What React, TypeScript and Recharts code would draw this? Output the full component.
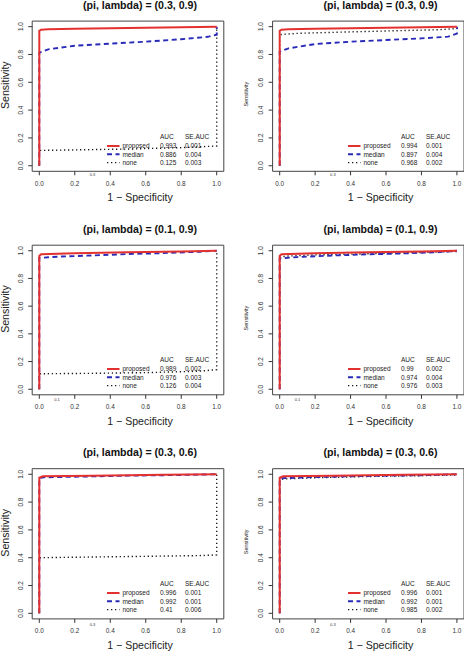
import { LineChart, Line, XAxis, YAxis, ReferenceArea, ReferenceLine, Legend } from "recharts";

type Pt = [number, number];

// ROC curves: [1 - specificity, sensitivity]
// (pi, lambda) = (0.3, 0.9), left
const rocA_proposed: Pt[] = [[0, 0], [0, 0.97], [0.01, 0.978], [0.05, 0.981], [0.2, 0.985], [0.5, 0.99], [0.8, 0.995], [1, 1]];
const rocA_median: Pt[] = [[0, 0], [0, 0.813], [0.05, 0.837], [0.2, 0.863], [0.4, 0.878], [0.6, 0.892], [0.8, 0.91], [0.95, 0.927], [1, 0.942], [1, 1]];
const rocA_none: Pt[] = [[0, 0], [0, 0.11], [0.2, 0.114], [0.5, 0.12], [0.8, 0.13], [1, 0.142], [1, 1]];
// (pi, lambda) = (0.3, 0.9), right
const rocB_proposed: Pt[] = [[0, 0], [0, 0.97], [0.01, 0.978], [0.05, 0.981], [0.2, 0.985], [0.5, 0.99], [0.8, 0.995], [1, 1]];
const rocB_median: Pt[] = [[0, 0], [0, 0.82], [0.05, 0.844], [0.2, 0.875], [0.4, 0.892], [0.6, 0.904], [0.8, 0.916], [0.95, 0.928], [1, 0.95], [1, 1]];
const rocB_none: Pt[] = [[0, 0], [0, 0.943], [0.1, 0.952], [0.3, 0.959], [0.6, 0.969], [0.9, 0.978], [1, 0.986], [1, 1]];
// (pi, lambda) = (0.1, 0.9), left
const rocC_proposed: Pt[] = [[0, 0], [0, 0.962], [0.01, 0.975], [0.2, 0.982], [0.5, 0.99], [0.8, 0.995], [1, 1]];
const rocC_median: Pt[] = [[0, 0], [0, 0.948], [0.1, 0.957], [0.3, 0.966], [0.5, 0.976], [0.7, 0.983], [0.9, 0.993], [1, 1]];
const rocC_none: Pt[] = [[0, 0], [0, 0.112], [0.3, 0.115], [0.6, 0.12], [0.9, 0.13], [1, 0.142], [1, 1]];
// (pi, lambda) = (0.1, 0.9), right
const rocD_proposed: Pt[] = [[0, 0], [0, 0.962], [0.01, 0.975], [0.2, 0.982], [0.5, 0.99], [0.8, 0.995], [1, 1]];
const rocD_median: Pt[] = [[0, 0], [0, 0.945], [0.1, 0.954], [0.3, 0.966], [0.5, 0.974], [0.7, 0.981], [0.9, 0.99], [1, 1]];
const rocD_none: Pt[] = [[0, 0], [0, 0.955], [0.05, 0.962], [0.2, 0.97], [0.5, 0.978], [0.8, 0.988], [1, 0.995], [1, 1]];
// (pi, lambda) = (0.3, 0.6), left
const rocE_proposed: Pt[] = [[0, 0], [0, 0.975], [0.02, 0.985], [0.3, 0.99], [0.7, 0.996], [1, 1]];
const rocE_median: Pt[] = [[0, 0], [0, 0.97], [0.02, 0.978], [0.2, 0.982], [0.5, 0.99], [0.8, 0.995], [1, 1]];
const rocE_none: Pt[] = [[0, 0], [0, 0.4], [0.3, 0.405], [0.6, 0.41], [0.9, 0.415], [1, 0.42], [1, 1]];
// (pi, lambda) = (0.3, 0.6), right
const rocF_proposed: Pt[] = [[0, 0], [0, 0.975], [0.02, 0.985], [0.3, 0.99], [0.7, 0.996], [1, 1]];
const rocF_median: Pt[] = [[0, 0], [0, 0.965], [0.02, 0.972], [0.2, 0.98], [0.5, 0.988], [0.8, 0.993], [1, 1]];
const rocF_none: Pt[] = [[0, 0], [0, 0.96], [0.02, 0.966], [0.2, 0.975], [0.5, 0.984], [0.8, 0.99], [1, 0.995], [1, 1]];

const seriesNames = ["proposed", "median", "none"];
const aucA = ["0.993", "0.886", "0.125"];
const seA = ["0.001", "0.004", "0.003"];
const aucB = ["0.994", "0.897", "0.968"];
const seB = ["0.001", "0.004", "0.002"];
const aucC = ["0.989", "0.976", "0.126"];
const seC = ["0.002", "0.003", "0.004"];
const aucD = ["0.99", "0.974", "0.976"];
const seD = ["0.002", "0.004", "0.003"];
const aucE = ["0.996", "0.992", "0.41"];
const seE = ["0.001", "0.001", "0.006"];
const aucF = ["0.996", "0.992", "0.985"];
const seF = ["0.001", "0.001", "0.002"];

const titles = ["(pi, lambda) = (0.3, 0.9)", "(pi, lambda) = (0.1, 0.9)", "(pi, lambda) = (0.3, 0.6)"];
const piValues = [0.3, 0.1, 0.3];
const xTicks = [0, 0.2, 0.4, 0.6, 0.8, 1];
const yTicks = [0, 0.2, 0.4, 0.6, 0.8, 1];

const FONT = "'Liberation Sans', Arial, Helvetica, sans-serif";
const lineColors = ["#e3312f", "#2a2ab8", "#1a1a1a"];
const lineWidths = [2, 1.9, 1.4];
const lineDashes = [undefined, "5 3.5", "1.3 2.7"];
// red drawn last so it sits on top, as in the original plot
const drawOrder = [2, 1, 0];

const panels = [
  { curves: [rocA_proposed, rocA_median, rocA_none], auc: aucA, se: seA },
  { curves: [rocB_proposed, rocB_median, rocB_none], auc: aucB, se: seB },
  { curves: [rocC_proposed, rocC_median, rocC_none], auc: aucC, se: seC },
  { curves: [rocD_proposed, rocD_median, rocD_none], auc: aucD, se: seD },
  { curves: [rocE_proposed, rocE_median, rocE_none], auc: aucE, se: seE },
  { curves: [rocF_proposed, rocF_median, rocF_none], auc: aucF, se: seF },
];

// panel geometry (R par layout)
const rowLayout = [
  { top: 0, height: 217, plotTop: 21.1, plotBottom: 171.3, piOffset: 2.3 },
  { top: 217, height: 217, plotTop: 28.2, plotBottom: 177.8, piOffset: 3.5 },
  { top: 434, height: 218, plotTop: 34.7, plotBottom: 184.9, piOffset: 4.4 },
];
const colLayout = [
  { left: 0, yAxisWidth: 32.2, right: 8.2, titleX: 140, yLabX: 9, yLabSize: 10.6, yLabShift: -11 },
  { left: 232, yAxisWidth: 40.6, right: 0, titleX: 148.5, yLabX: 15.6, yLabSize: 5.5, yLabShift: -2 },
];

const BottomTick = (props: any) => {
  const { x, y, payload } = props;
  return (
    <text x={x} y={y + 4.6} textAnchor="middle" fontSize={6.4} fill="#333" fontFamily={FONT}>
      {Number(payload.value).toFixed(1)}
    </text>
  );
};

const RotatedTick = (props: any) => {
  const { x, y, payload } = props;
  const bx = x - 5.2;
  return (
    <text x={bx} y={y} transform={`rotate(-90 ${bx} ${y})`} textAnchor="middle"
      fontSize={6.4} fill="#333" fontFamily={FONT}>
      {Number(payload.value).toFixed(1)}
    </text>
  );
};

function RocLegend({ auc, se }: { auc: string[]; se: string[] }) {
  const rowY = [20, 28.3, 36.6];
  const txt = { fontSize: 6.5, fill: "#222", fontFamily: FONT };
  return (
    <svg width={120} height={44} style={{ display: "block", overflow: "visible" }}>
      <text x={61} y={13.3} {...txt}>AUC</text>
      <text x={86} y={13.3} {...txt}>SE.AUC</text>
      {seriesNames.map((name, i) => (
        <g key={name}>
          <line x1={8} x2={20.5} y1={rowY[i]} y2={rowY[i]} stroke={lineColors[i]}
            strokeWidth={lineWidths[i]} strokeDasharray={lineDashes[i]} />
          <text x={23.4} y={rowY[i] + 2.3} {...txt}>{name}</text>
          <text x={61} y={rowY[i] + 2.3} {...txt}>{auc[i]}</text>
          <text x={86} y={rowY[i] + 2.3} {...txt}>{se[i]}</text>
        </g>
      ))}
    </svg>
  );
}

function RocPanel({ index }: { index: number }) {
  const row = Math.floor(index / 2);
  const col = index % 2;
  const r = rowLayout[row];
  const c = colLayout[col];
  const p = panels[index];
  const plotW = 232 - c.yAxisWidth - c.right;
  const plotH = r.plotBottom - r.plotTop;
  const x0 = c.yAxisWidth + (0.04 / 1.08) * plotW;
  const y0 = r.plotBottom - (0.04 / 1.08) * plotH;
  const yMid = (r.plotTop + r.plotBottom) / 2 + c.yLabShift;

  return (
    <div style={{ position: "absolute", left: c.left, top: r.top, width: 232, height: r.height }}>
      <LineChart width={232} height={r.height}
        margin={{ top: r.plotTop, right: c.right, bottom: r.height - r.plotBottom - 30, left: 0 }}>
        <XAxis dataKey="x" type="number" domain={[-0.04, 1.04]} ticks={xTicks} allowDataOverflow
          height={30} tickSize={4} tickMargin={5.8} axisLine={false}
          tickLine={{ stroke: "#333" }} tick={<BottomTick />} />
        <YAxis type="number" domain={[-0.04, 1.04]} ticks={yTicks} allowDataOverflow
          width={c.yAxisWidth} tickSize={4} tickMargin={0} axisLine={false}
          tickLine={{ stroke: "#333" }} tick={<RotatedTick />} />
        <ReferenceArea x1={-0.04} x2={1.04} y1={-0.04} y2={1.04} fill="none" stroke="#444" strokeWidth={1} />
        <ReferenceLine x={piValues[row]} stroke="none"
          label={{ value: String(piValues[row]), position: "bottom", offset: r.piOffset, fontSize: 4, fill: "#333", fontFamily: FONT }} />
        {drawOrder.map((i) => (
          <Line key={seriesNames[i]} name={seriesNames[i]} data={p.curves[i].map(([x, y]) => ({ x, y }))}
            dataKey="y" type="linear" stroke={lineColors[i]} strokeWidth={lineWidths[i]}
            strokeDasharray={lineDashes[i]} dot={false} activeDot={false} isAnimationActive={false} />
        ))}
        <Legend layout="vertical" align="center" verticalAlign="middle"
          wrapperStyle={{ left: x0 + 60, top: y0 - 40, width: 120, height: 44 }}
          content={() => <RocLegend auc={p.auc} se={p.se} />} />
      </LineChart>
      <svg width={232} height={r.height} style={{ position: "absolute", left: 0, top: 0, pointerEvents: "none" }}>
        <text x={c.titleX} y={r.plotTop - 12.5} textAnchor="middle" fontSize={10.6} fontWeight="bold"
          fill="#111" fontFamily={FONT}>{titles[row]}</text>
        <text x={c.titleX} y={r.plotBottom + 30} textAnchor="middle" fontSize={10.6}
          fill="#222" fontFamily={FONT}>1 − Specificity</text>
        <text x={c.yLabX} y={yMid} transform={`rotate(-90 ${c.yLabX} ${yMid})`} textAnchor="middle"
          fontSize={c.yLabSize} fill="#222" fontFamily={FONT}>Sensitivity</text>
      </svg>
    </div>
  );
}

export default function App() {
  return (
    <div style={{ position: "absolute", left: 0, top: 0, width: 464, height: 652, background: "#fff" }}>
      {panels.map((_, i) => <RocPanel key={i} index={i} />)}
    </div>
  );
}
